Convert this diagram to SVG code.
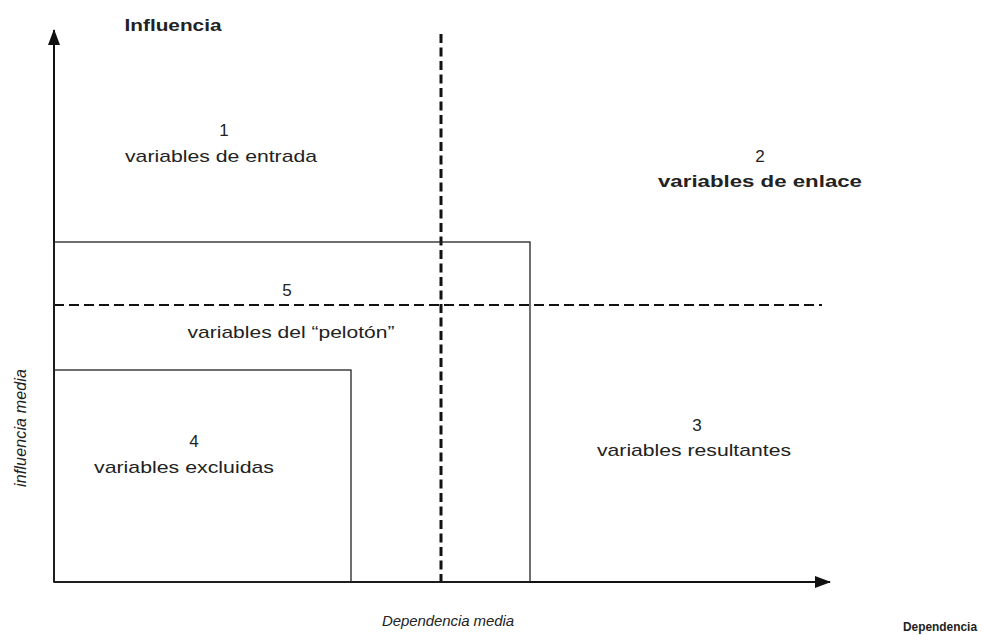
<svg xmlns="http://www.w3.org/2000/svg" width="982" height="635" viewBox="0 0 982 635">
<style>
text{font-family:"Liberation Sans",Arial,sans-serif;fill:#222;}
.lbl{font-size:17px;text-anchor:middle;}
.b{font-weight:bold;}
.it{font-style:italic;font-size:15px;text-anchor:middle;}
.box{fill:none;stroke:#222;stroke-width:1.3;}
.axis{stroke:#111;stroke-width:2;fill:none;}
</style>
<defs>
<marker id="ah" viewBox="0 0 16 12" refX="15" refY="6" markerWidth="16" markerHeight="12" markerUnits="userSpaceOnUse" orient="auto">
<path d="M0,0 L16,6 L0,12 Z" fill="#111"/>
</marker>
</defs>
<rect width="982" height="635" fill="#fff"/>
<g id="connectors">
<line class="axis" x1="54" y1="582" x2="54" y2="30" marker-end="url(#ah)"/>
<line class="axis" x1="54" y1="582" x2="830" y2="582" marker-end="url(#ah)"/>
<line x1="441" y1="34" x2="441" y2="582" stroke="#111" stroke-width="3" stroke-dasharray="9,4.5"/>
<line x1="54" y1="305" x2="822" y2="305" stroke="#111" stroke-width="2" stroke-dasharray="10,5"/>
</g>
<g id="peloton">
<rect class="box" x="54" y="242" width="476" height="340"/>
<text class="lbl" x="287" y="296">5</text>
<text class="lbl" x="291" y="338" textLength="207" lengthAdjust="spacingAndGlyphs">variables del “pelotón”</text>
</g>
<g id="excluidas">
<rect class="box" x="54" y="370" width="297" height="212"/>
<text class="lbl" x="194" y="447">4</text>
<text class="lbl" x="184" y="473" textLength="180" lengthAdjust="spacingAndGlyphs">variables excluidas</text>
</g>
<g id="entrada">
<text class="lbl" x="224" y="136">1</text>
<text class="lbl" x="221" y="162" textLength="192" lengthAdjust="spacingAndGlyphs">variables de entrada</text>
</g>
<g id="enlace">
<text class="lbl" x="760" y="162">2</text>
<text class="lbl b" x="760" y="187" textLength="204" lengthAdjust="spacingAndGlyphs">variables de enlace</text>
</g>
<g id="resultantes">
<text class="lbl" x="697" y="431">3</text>
<text class="lbl" x="694" y="456" textLength="194" lengthAdjust="spacingAndGlyphs">variables resultantes</text>
</g>
<g id="labels">
<text class="lbl b" x="173" y="31" textLength="97" lengthAdjust="spacingAndGlyphs">Influencia</text>
<text class="b" x="940" y="631" style="font-size:13px;text-anchor:middle" textLength="74" lengthAdjust="spacingAndGlyphs">Dependencia</text>
<text class="it" x="448" y="626" textLength="132">Dependencia media</text>
<text class="it" transform="translate(26,428) rotate(-90)" x="0" y="0" style="font-size:16px" textLength="118">influencia media</text>
</g>
</svg>
